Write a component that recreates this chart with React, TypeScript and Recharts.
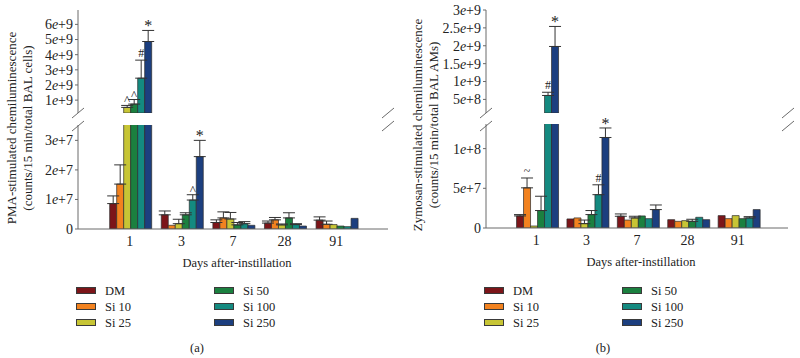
import { Bar, BarChart, ErrorBar, LabelList, XAxis, YAxis } from "recharts";

const days = ["1", "3", "7", "28", "91"];
const seriesNames = ["DM", "Si 10", "Si 25", "Si 50", "Si 100", "Si 250"];
const seriesColors = ["#7c1519", "#f2821f", "#c7c535", "#1b803f", "#148a80", "#1c3f7f"];

// (a) PMA-stimulated, per series by day
const pmaDM = [8.6e6, 4.8e6, 2.2e6, 2.0e6, 3.0e6];
const pmaSi10 = [1.52e7, 1.25e6, 3.75e6, 3.1e6, 1.6e6];
const pmaSi25 = [5.2e8, 1.8e6, 3.4e6, 1.4e6, 1.5e6];
const pmaSi50 = [7.4e8, 4.8e6, 1.4e6, 3.75e6, 1.0e6];
const pmaSi100 = [2.45e9, 9.8e6, 1.8e6, 1.5e6, 0.8e6];
const pmaSi250 = [4.87e9, 2.45e7, 1.25e6, 1.0e6, 3.6e6];

const pmaDMErr = [2.6e6, 1.3e6, 0.9e6, 0.7e6, 1.1e6];
const pmaSi10Err = [6.5e6, 0, 2.05e6, 0.8e6, 1.1e6];
const pmaSi25Err = [1.3e8, 1.5e6, 2.2e6, 0.3e6, 0];
const pmaSi50Err = [3.0e8, 0.7e6, 0.8e6, 1.75e6, 0];
const pmaSi100Err = [1.19e9, 1.8e6, 0.7e6, 0.3e6, 0];
const pmaSi250Err = [0.73e9, 5.5e6, 0, 0, 0];

const pmaMarks = [
  ["", "", "", "", ""],
  ["", "", "", "", ""],
  ["^", "", "", "", ""],
  ["^", "", "", "", ""],
  ["#", "^", "", "", ""],
  ["*", "*", "", "", ""],
];

// (b) Zymosan-stimulated
const zymDM = [1.52e7, 1.14e7, 1.48e7, 1.05e7, 1.56e7];
const zymSi10 = [5.06e7, 1.27e7, 1.0e7, 8.4e6, 1.18e7];
const zymSi25 = [2.5e6, 5.5e6, 1.27e7, 9.3e6, 1.56e7];
const zymSi50 = [2.2e7, 1.69e7, 1.52e7, 8.4e6, 1.18e7];
const zymSi100 = [6.1e8, 4.2e7, 1.18e7, 1.35e7, 1.27e7];
const zymSi250 = [1.98e9, 1.14e8, 2.32e7, 1.05e7, 2.32e7];

const zymDMErr = [1.7e6, 0, 2.9e6, 0, 0];
const zymSi10Err = [1.24e7, 0, 0, 0, 0];
const zymSi25Err = [0, 4.5e6, 2.1e6, 0, 0];
const zymSi50Err = [1.8e7, 5.1e6, 0, 2.6e6, 0];
const zymSi100Err = [0.9e8, 1.24e7, 0, 0, 1.6e6];
const zymSi250Err = [0.56e9, 1.2e7, 5.8e6, 0, 0];

const zymMarks = [
  ["", "", "", "", ""],
  ["~", "", "", "", ""],
  ["", "", "", "", ""],
  ["", "", "", "", ""],
  ["#", "#", "", "", ""],
  ["*", "*", "", "", ""],
];

const pmaUpperTicks = [1e9, 2e9, 3e9, 4e9, 5e9, 6e9];
const pmaLowerTicks = [0, 1e7, 2e7, 3e7];
const zymUpperTicks = [5e8, 1e9, 1.5e9, 2e9, 2.5e9, 3e9];
const zymLowerTicks = [0, 5e7, 1e8];

const FRAME = "#6a6a6a";
const INK = "#222";
const FONT = '"Liberation Serif", "Times New Roman", serif';

const SciTick = ({ x, y, payload }: any) => {
  const v = payload.value;
  if (v === 0) {
    return (
      <text x={x} y={y} dy="0.35em" textAnchor="end" fontSize={14} fill={INK}>0</text>
    );
  }
  const exp = Math.floor(Math.log10(v) + 1e-9);
  const m = +(v / Math.pow(10, exp)).toFixed(2);
  return (
    <text x={x} y={y} dy="0.35em" textAnchor="end" fontSize={14} fill={INK}>
      <tspan>{m}</tspan>
      <tspan fontStyle="italic">e</tspan>
      <tspan>+{exp}</tspan>
    </text>
  );
};

const markSize: Record<string, number> = { "*": 16, "#": 12, "^": 13, "~": 12 };

function renderMark(props: any, base: number) {
  const raw = props.value;
  if (!raw) return null;
  const [mark, valS, errS] = String(raw).split("|");
  const vb = props.viewBox && props.viewBox.width != null ? props.viewBox : props;
  const { x, y, width, height } = vb;
  const val = Number(valS);
  const err = Number(errS);
  const ppu = height / (val - base);
  const top = y - err * ppu;
  const off = mark === "*" ? -1 : mark === "^" ? 1 : 3;
  return (
    <text x={x + width / 2} y={top - off} textAnchor="middle" fontSize={markSize[mark] || 11} fill={INK}>
      {mark}
    </text>
  );
}

function buildRows(values: number[][], errors: number[][], marks: string[][], split: number, upper: boolean) {
  return days.map((day, i) => {
    const row: any = { day };
    values.forEach((vals, s) => {
      const v = vals[i];
      const inUpper = v >= split;
      row[`s${s}`] = upper ? (inUpper ? v : null) : v;
      const detail = upper ? inUpper : !inUpper;
      row[`e${s}`] = detail && errors[s][i] ? [0, errors[s][i]] : null;
      row[`m${s}`] = detail ? marks[s][i] : "";
    });
    return row;
  });
}

function renderBars(base: number) {
  return seriesNames.map((name, s) => (
    <Bar
      key={name}
      name={name}
      dataKey={`s${s}`}
      fill={seriesColors[s]}
      stroke="#2b2b2b"
      strokeWidth={0.7}
      isAnimationActive={false}
    >
      <ErrorBar dataKey={`e${s}`} direction="y" width={6} stroke="#333" strokeWidth={1} />
      <LabelList
        dataKey={(r: any) => (r[`m${s}`] ? `${r[`m${s}`]}|${r[`s${s}`]}|${r[`e${s}`] ? r[`e${s}`][1] : 0}` : "")}
        content={(p: any) => renderMark(p, base)}
      />
    </Bar>
  ));
}

interface PanelProps {
  left: number;
  yWidth: number;
  pad: number;
  values: number[][];
  errors: number[][];
  marks: string[][];
  upperDomain: [number, number];
  upperTicks: number[];
  lowerDomain: [number, number];
  lowerTicks: number[];
  lowerTop: number;
}

function Panel(p: PanelProps) {
  const upperRows = buildRows(p.values, p.errors, p.marks, p.upperDomain[0], true);
  const lowerRows = buildRows(p.values, p.errors, p.marks, p.upperDomain[0], false);
  return (
    <>
      <div style={{ position: "absolute", left: p.left, top: 0 }}>
        <BarChart width={400} height={113} data={upperRows} margin={{ top: 10, right: 12, left: 0, bottom: 0 }} barGap={0} barCategoryGap="11%">
          <XAxis dataKey="day" orientation="top" height={0} tick={false} tickLine={false} axisLine={{ stroke: FRAME }} padding={{ left: p.pad, right: p.pad }} />
          <YAxis domain={p.upperDomain} ticks={p.upperTicks} allowDataOverflow interval={0} width={p.yWidth} tick={<SciTick />} tickSize={3} tickMargin={2} axisLine={{ stroke: FRAME }} tickLine={{ stroke: FRAME }} />
          <YAxis yAxisId="r" orientation="right" width={0} domain={[0, 1]} tick={false} tickLine={false} axisLine={{ stroke: FRAME }} />
          {renderBars(p.upperDomain[0])}
        </BarChart>
      </div>
      <div style={{ position: "absolute", left: p.left, top: p.lowerTop - 10 }}>
        <BarChart width={400} height={158} data={lowerRows} margin={{ top: 10, right: 12, left: 0, bottom: 0 }} barGap={0} barCategoryGap="11%">
          <XAxis
            dataKey="day"
            height={44}
            tickLine={false}
            axisLine={{ stroke: FRAME }}
            padding={{ left: p.pad, right: p.pad }}
            tick={{ fill: INK, fontSize: 14 }}
            tickSize={5}
            label={{ value: "Days after-instillation", position: "insideBottom", offset: 6, fill: INK, fontSize: 12.5, dx: 4 }}
          />
          <YAxis domain={p.lowerDomain} ticks={p.lowerTicks} allowDataOverflow interval={0} width={p.yWidth} tick={<SciTick />} tickSize={3} tickMargin={2} axisLine={{ stroke: FRAME }} tickLine={{ stroke: FRAME }} />
          <YAxis yAxisId="r" orientation="right" width={0} domain={[0, 1]} tick={false} tickLine={false} axisLine={{ stroke: FRAME }} />
          {renderBars(0)}
        </BarChart>
      </div>
    </>
  );
}

function Legend({ left }: { left: number }) {
  const rows = [0, 1, 2];
  return (
    <>
      {seriesNames.map((name, s) => {
        const col = s < 3 ? 0 : 1;
        const row = rows[s % 3];
        const x = left + col * 138;
        const y = 291 + row * 16;
        return (
          <div key={name}>
            <div style={{ position: "absolute", left: x, top: y - 4, width: 20, height: 7, background: seriesColors[s], border: "1px solid #3a3a3a", boxSizing: "border-box" }} />
            <div style={{ position: "absolute", left: x + 29, top: y - 8, fontSize: 12.5, lineHeight: "16px", color: INK }}>{name}</div>
          </div>
        );
      })}
    </>
  );
}

function BreakMarks({ xs }: { xs: number[] }) {
  return (
    <>
      {xs.map((x) => (
        <g key={x} stroke={FRAME} strokeWidth={1}>
          <line x1={x - 6} y1={118} x2={x + 6} y2={108} />
          <line x1={x - 6} y1={131} x2={x + 6} y2={121} />
        </g>
      ))}
    </>
  );
}

export default function App() {
  return (
    <div style={{ position: "absolute", left: 0, top: 0, width: 800, height: 358, background: "#fff", fontFamily: FONT, overflow: "hidden" }}>
      <Panel
        left={0}
        yWidth={78}
        pad={26}
        values={[pmaDM, pmaSi10, pmaSi25, pmaSi50, pmaSi100, pmaSi250]}
        errors={[pmaDMErr, pmaSi10Err, pmaSi25Err, pmaSi50Err, pmaSi100Err, pmaSi250Err]}
        marks={pmaMarks}
        upperDomain={[1.5e8, 6.95e9]}
        upperTicks={pmaUpperTicks}
        lowerDomain={[0, 3.52e7]}
        lowerTicks={pmaLowerTicks}
        lowerTop={125}
      />
      <Panel
        left={400}
        yWidth={86}
        pad={25}
        values={[zymDM, zymSi10, zymSi25, zymSi50, zymSi100, zymSi250]}
        errors={[zymDMErr, zymSi10Err, zymSi25Err, zymSi50Err, zymSi100Err, zymSi250Err]}
        marks={zymMarks}
        upperDomain={[1.2e8, 3e9]}
        upperTicks={zymUpperTicks}
        lowerDomain={[0, 1.31e8]}
        lowerTicks={zymLowerTicks}
        lowerTop={124}
      />
      <svg width={800} height={358} style={{ position: "absolute", left: 0, top: 0, pointerEvents: "none" }}>
        <BreakMarks xs={[78, 388, 486, 788]} />
        <g fill={INK} fontSize={13} textAnchor="middle">
          <text transform="translate(16,128) rotate(-90)">PMA-stimulated chemiluminescence</text>
          <text transform="translate(32,128) rotate(-90)">(counts/15 min/total BAL cells)</text>
          <text transform="translate(422,125) rotate(-90)">Zymosan-stimulated chemiluminescence</text>
          <text transform="translate(438,125) rotate(-90)">(counts/15 min/total BAL AMs)</text>
          <text x={197} y={352} fontSize={12.5}>(a)</text>
          <text x={603} y={352} fontSize={12.5}>(b)</text>
        </g>
      </svg>
      <Legend left={76} />
      <Legend left={484} />
    </div>
  );
}
